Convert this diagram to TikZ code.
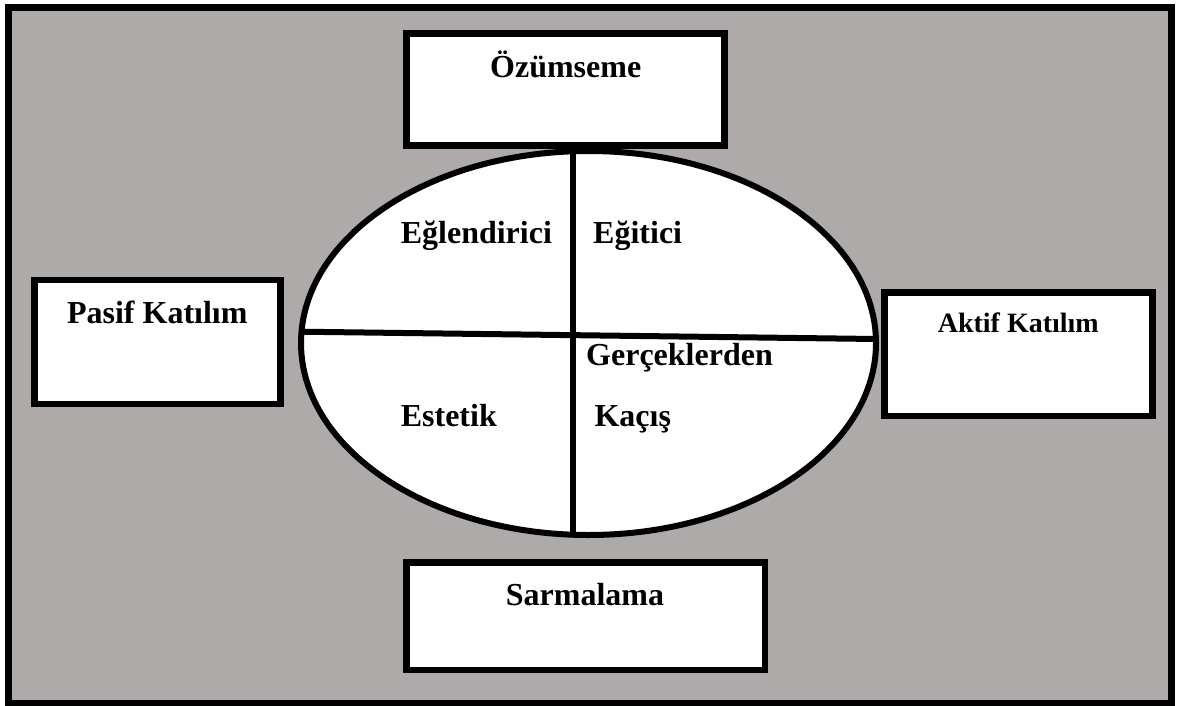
\documentclass[tikz,border=0pt]{standalone}
\usepackage{fontspec}
\setmainfont{Liberation Serif}
\usetikzlibrary{shapes.geometric}
\definecolor{bggray}{RGB}{174,170,169}
\tikzset{
  frame/.style={draw=black, fill=bggray, line width=7pt},
  box/.style={draw=black, fill=white, line width=6.7pt, rectangle, inner sep=0pt},
  oval/.style={draw=black, fill=white, line width=6pt, ellipse, inner sep=0pt},
  divider/.style={draw=black, line width=6pt},
  lbl/.style={font=\fontsize{32}{38}\selectfont\bfseries, inner sep=0pt},
  lblsmall/.style={font=\fontsize{28}{34}\selectfont\bfseries, inner sep=0pt}
}
\begin{document}
\begin{tikzpicture}[x=1pt, y=-1pt]
\useasboundingbox (0,0) rectangle (1177,706);
\fill[white] (0,0) rectangle (1177,706);
\draw[frame] (8.5,7.5) rectangle (1171.5,703);
% ellipse
\node[oval, minimum width=575pt, minimum height=384pt] (ell) at (588.5,343) {};
\coordinate (vt) at (572.6,151);
\coordinate (vb) at (572.6,535);
\coordinate (hl) at (301,331.7);
\coordinate (hr) at (876,339);
\draw[divider] (vt) -- (vb);
\draw[divider] (hl) -- (hr);
% boxes
\node[box, minimum width=318pt, minimum height=112.4pt] (ozum) at (565.7,89.5) {};
\node[box, minimum width=246pt, minimum height=124pt] (pasif) at (157.5,342) {};
\node[box, minimum width=268pt, minimum height=123.5pt] (aktif) at (1018.5,354.25) {};
\node[box, minimum width=358.3pt, minimum height=107.3pt] (sarma) at (585.85,616.35) {};
% box labels
\node[lbl, anchor=base] (tozum) at (565.7,78) {Özümseme};
\node[lbl, anchor=base] (tpasif) at (157.3,323.3) {Pasif Katılım};
\node[lblsmall, anchor=base] (taktif) at (1018.3,332.7) {Aktif Katılım};
\node[lbl, anchor=base] (tsarma) at (585,605) {Sarmalama};
% quadrant labels
\node[lbl, anchor=base west] (eglen) at (400.6,243) {Eğlendirici};
\node[lbl, anchor=base west] (egit) at (593,243) {Eğitici};
\node[lbl, anchor=base west] (estet) at (400.6,426.7) {Estetik};
\node[lbl, anchor=base west] (gerc) at (586,365) {Gerçeklerden};
\node[lbl, anchor=base west] (kacis) at (594.3,426.7) {Kaçış};
\end{tikzpicture}
\end{document}
